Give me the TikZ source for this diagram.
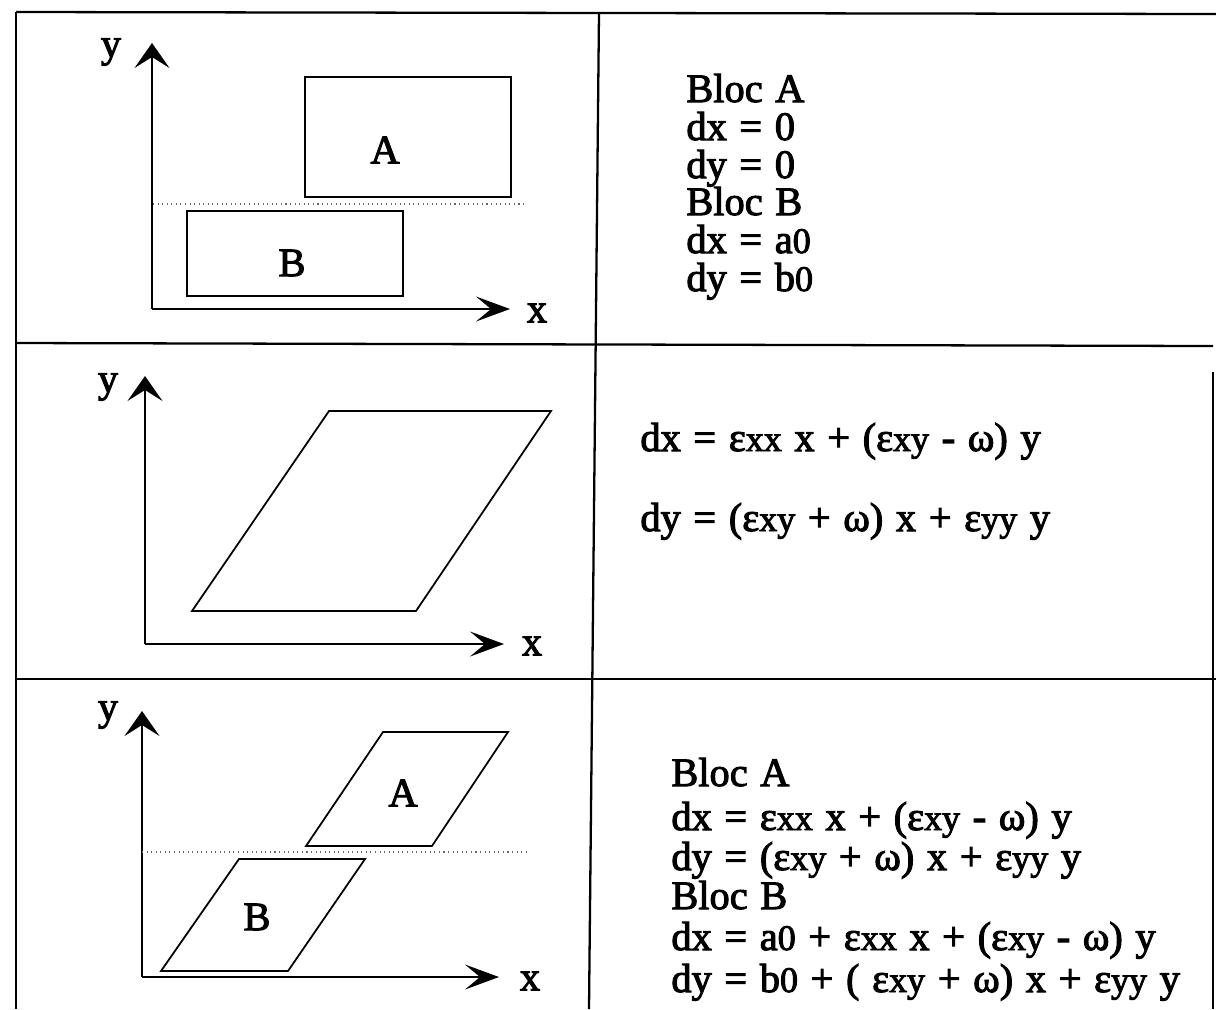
\documentclass[tikz,border=0pt]{standalone}
\usepackage{fontspec}
\setmainfont{Liberation Serif}
\newfontfamily\heavy{Liberation Serif}[FakeBold=2.5,WordSpace=1.25]
\usetikzlibrary{arrows.meta}

% slightly smaller letters for the indices (xx, xy, yy, 0)
\newcommand{\ix}[1]{{\fontsize{20.5}{20.5}\selectfont #1}}

\begin{document}
\begin{tikzpicture}[x=0.02cm,y=-0.02cm]
	\tikzset{frame/.style={draw,line width=1.3pt}}
	\tikzset{line/.style={draw,line width=1pt}}
	\tikzset{yaxis/.style={line,-{Stealth[length=0.5cm,width=0.7cm,inset=0.22cm]}}}
	\tikzset{xaxis/.style={line,-{Stealth[length=0.68cm,width=0.5cm,inset=0.3cm]}}}
	\tikzset{guide/.style={draw,line width=0.6pt,black!60,dotted}}
	\tikzset{lbl/.style={inner sep=0pt,font=\heavy\fontsize{23}{27}\selectfont}}
	\tikzset{eq/.style={lbl,anchor=base west}}

	\useasboundingbox (0,0) rectangle (1216,1009);

	% table
	\coordinate (t1) at (16,12);
	\coordinate (t2) at (1216,14);
	\coordinate (b1) at (16,1009);
	\coordinate (m1) at (599,12);
	\coordinate (m2) at (589,1009);
	\coordinate (r1) at (1213,372);
	\coordinate (r2) at (1213,1009);
	\coordinate (s1) at (16,343);
	\coordinate (s2) at (1213,346);
	\coordinate (s3) at (16,679);
	\coordinate (s4) at (1216,679);

	\draw[frame] (t1) -- (t2);
	\draw[frame] (t1) -- (b1);
	\draw[frame] (m1) -- (m2);
	\draw[frame] (r1) -- (r2);
	\draw[frame] (s1) -- (s2);
	\draw[frame] (s3) -- (s4);

	% row 1: two blocks
	\coordinate (o1) at (152,309);
	\coordinate (y1) at (152,43);
	\coordinate (x1) at (510,309);
	\draw[yaxis] (o1) -- (y1);
	\draw[xaxis] (o1) -- (x1);
	\node[lbl] (ly1) at (111,52) {y};
	\node[lbl] (lx1) at (537,313) {x};

	\draw[line] (305,77) rectangle (511,197);
	\draw[guide] (153,204) -- (527,204);
	\draw[line] (187,211) rectangle (403,296);
	\node[lbl] (la1) at (385,150) {A};
	\node[lbl] (lb1) at (292,263) {B};

	\node[eq] (e11) at (686,102) {Bloc A};
	\node[eq] (e12) at (686,140) {dx = 0};
	\node[eq] (e13) at (686,178) {dy = 0};
	\node[eq] (e14) at (686,215) {Bloc B};
	\node[eq] (e15) at (686,253) {dx = a\ix{0}};
	\node[eq] (e16) at (686,291) {dy = b\ix{0}};

	% row 2: one deformed block
	\coordinate (o2) at (145,644);
	\coordinate (y2) at (145,376);
	\coordinate (x2) at (504,644);
	\draw[yaxis] (o2) -- (y2);
	\draw[xaxis] (o2) -- (x2);
	\node[lbl] (ly2) at (108,387) {y};
	\node[lbl] (lx2) at (532,646) {x};

	\draw[line] (192,611) -- (416,611) -- (551,411) -- (329,411) -- cycle;

	\node[eq] (e21) at (640,451) {dx = ε\ix{xx} x + (ε\ix{xy} - ω) y};
	\node[eq] (e22) at (640,531) {dy = (ε\ix{xy} + ω) x + ε\ix{yy} y};

	% row 3: two deformed blocks
	\coordinate (o3) at (142,977);
	\coordinate (y3) at (142,711);
	\coordinate (x3) at (499,977);
	\draw[yaxis] (o3) -- (y3);
	\draw[xaxis] (o3) -- (x3);
	\node[lbl] (ly3) at (108,715) {y};
	\node[lbl] (lx3) at (530,981) {x};

	\draw[line] (306,846) -- (432,846) -- (508,732) -- (383,732) -- cycle;
	\draw[guide] (142,852) -- (529,852);
	\draw[line] (161,971) -- (288,971) -- (365,859) -- (239,859) -- cycle;
	\node[lbl] (la3) at (403,793) {A};
	\node[lbl] (lb3) at (257,917) {B};

	\node[eq] (e31) at (671,786) {Bloc A};
	\node[eq] (e32) at (671,830) {dx = ε\ix{xx} x + (ε\ix{xy} - ω) y};
	\node[eq] (e33) at (671,870) {dy = (ε\ix{xy} + ω) x + ε\ix{yy} y};
	\node[eq] (e34) at (671,909) {Bloc B};
	\node[eq] (e35) at (671,950) {dx = a\ix{0} + ε\ix{xx} x + (ε\ix{xy} - ω) y};
	\node[eq] (e36) at (671,992) {dy = b\ix{0} + ( ε\ix{xy} + ω) x + ε\ix{yy} y};
\end{tikzpicture}
\end{document}
